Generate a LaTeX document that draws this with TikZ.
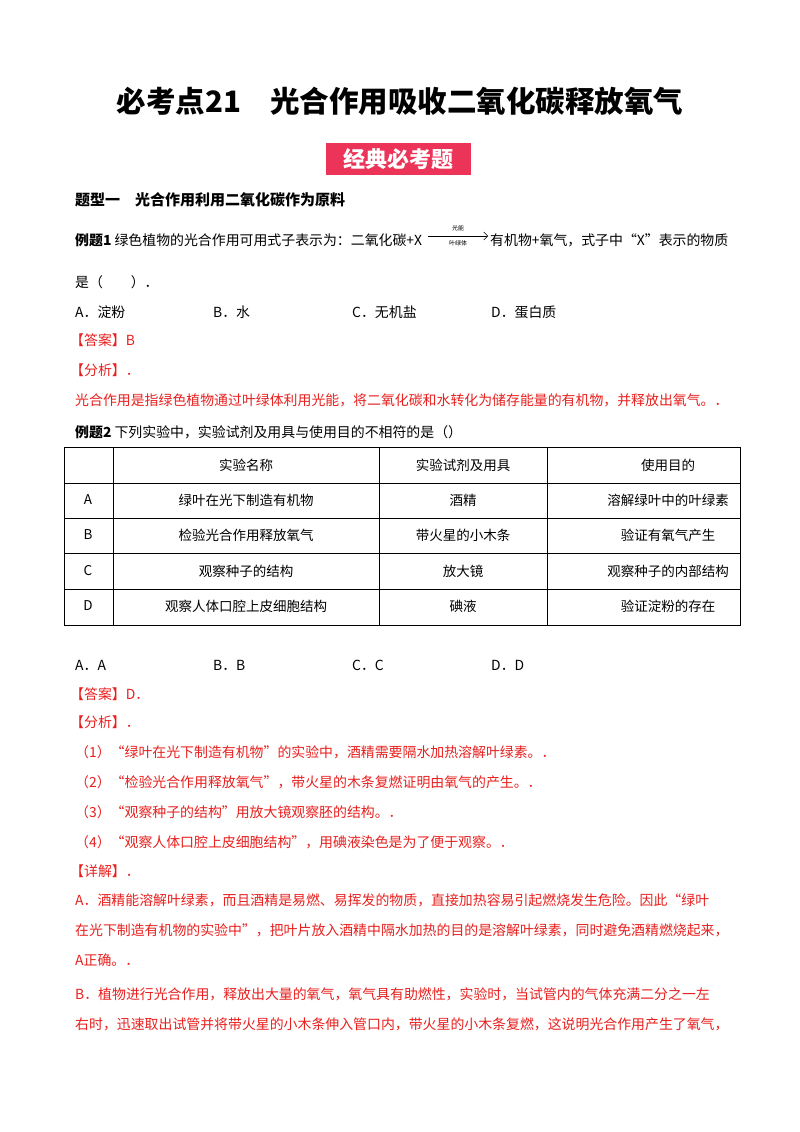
\documentclass[tikz,border=0pt]{standalone}
\usepackage{fontspec}
\usetikzlibrary{arrows.meta}
\setmainfont{Liberation Serif}
\newfontfamily\cjk{Noto Sans CJK SC}
\definecolor{ansred}{HTML}{E8201E}
\definecolor{badge}{HTML}{EC3458}
\tikzset{txt/.style={anchor=west,inner sep=0,font=\fontsize{13.9}{14}\selectfont\cjk},
 red/.style={txt,text=ansred},
 cell/.style={inner sep=0,font=\fontsize{13.5}{14}\selectfont\cjk}}
\begin{document}
\begin{tikzpicture}[x=1pt,y=-1pt]
\useasboundingbox[fill=white] (0,0) rectangle (800,1132);
\node[inner sep=0,font=\fontsize{29.5}{30}\selectfont\cjk\bfseries] (title) at (400,101) {必考点21\quad 光合作用吸收二氧化碳释放氧气};
\node[fill=badge,text=white,inner sep=0,minimum width=145,minimum height=32,font=\fontsize{22}{22}\selectfont\cjk\bfseries] (badge) at (398,159) {经典必考题};
\node[txt,font=\fontsize{15}{15}\selectfont\cjk\bfseries] (h1) at (75,200) {题型一\quad 光合作用利用二氧化碳作为原料};
\node[txt] (q1) at (75,240) {{\bfseries 例题1} 绿色植物的光合作用可用式子表示为：二氧化碳+X};
\coordinate (a1) at (428,236); \coordinate (a2) at (488,236);
\draw[-{Straight Barb[length=4pt]},line width=0.5pt] (a1) -- (a2);
\node[inner sep=0,font=\fontsize{6}{6}\selectfont\cjk] (l1) at (458,228) {光能};
\node[inner sep=0,font=\fontsize{6}{6}\selectfont\cjk] (l2) at (458,243) {叶绿体};
\node[txt] (q1b) at (490,240) {有机物+氧气，式子中“X”表示的物质};
\node[txt] (q1c) at (75,282) {是（\quad\quad ）．};
\node[txt] (oA) at (75,312) {A．淀粉};
\node[txt] (oB) at (213,312) {B．水};
\node[txt] (oC) at (352,312) {C．无机盐};
\node[txt] (oD) at (491,312) {D．蛋白质};
\node[red] (ans1) at (70,340) {【答案】B};
\node[red] (fx1) at (70,370) {【分析】．};
\node[red] (fx1t) at (75,400) {光合作用是指绿色植物通过叶绿体利用光能，将二氧化碳和水转化为储存能量的有机物，并释放出氧气。．};
\node[txt] (q2) at (75,432) {{\bfseries 例题2} 下列实验中，实验试剂及用具与使用目的不相符的是（）};
% table
\draw[line width=0.6pt] (64,447) rectangle (740,625);
\foreach \y in {483,518,553,589} \draw[line width=0.6pt] (64,\y) -- (740,\y);
\foreach \x in {113,379,547} \draw[line width=0.6pt] (\x,447) -- (\x,625);
\foreach \y/\a/\b/\c/\d in {465//实验名称/实验试剂及用具/使用目的,
 500/A/绿叶在光下制造有机物/酒精/溶解绿叶中的叶绿素,
 535/B/检验光合作用释放氧气/带火星的小木条/验证有氧气产生,
 571/C/观察种子的结构/放大镜/观察种子的内部结构,
 606/D/观察人体口腔上皮细胞结构/碘液/验证淀粉的存在}{
 \node[cell] at (88,\y) {\a};
 \node[cell] at (246,\y) {\b};
 \node[cell] at (463,\y) {\c};
 \node[cell] at (668,\y) {\d};}
\node[txt] (pA) at (75,665) {A．A};
\node[txt] (pB) at (213,665) {B．B};
\node[txt] (pC) at (352,665) {C．C};
\node[txt] (pD) at (491,665) {D．D};
\node[red] (ans2) at (70,694) {【答案】D．};
\node[red] (fx2) at (70,722) {【分析】．};
\node[red] (f1) at (75,752) {（1）“绿叶在光下制造有机物”的实验中，酒精需要隔水加热溶解叶绿素。．};
\node[red] (f2) at (75,782) {（2）“检验光合作用释放氧气”，带火星的木条复燃证明由氧气的产生。．};
\node[red] (f3) at (75,812) {（3）“观察种子的结构”用放大镜观察胚的结构。．};
\node[red] (f4) at (75,842) {（4）“观察人体口腔上皮细胞结构”，用碘液染色是为了便于观察。．};
\node[red] (xj) at (70,871) {【详解】．};
\node[red] (d1) at (75,900) {A．酒精能溶解叶绿素，而且酒精是易燃、易挥发的物质，直接加热容易引起燃烧发生危险。因此“绿叶};
\node[red] (d2) at (75,930) {在光下制造有机物的实验中”，把叶片放入酒精中隔水加热的目的是溶解叶绿素，同时避免酒精燃烧起来，};
\node[red] (d3) at (75,960) {A正确。．};
\node[red] (d4) at (75,994) {B．植物进行光合作用，释放出大量的氧气，氧气具有助燃性，实验时，当试管内的气体充满二分之一左};
\node[red] (d5) at (75,1024) {右时，迅速取出试管并将带火星的小木条伸入管口内，带火星的小木条复燃，这说明光合作用产生了氧气，};
\end{tikzpicture}
\end{document}
